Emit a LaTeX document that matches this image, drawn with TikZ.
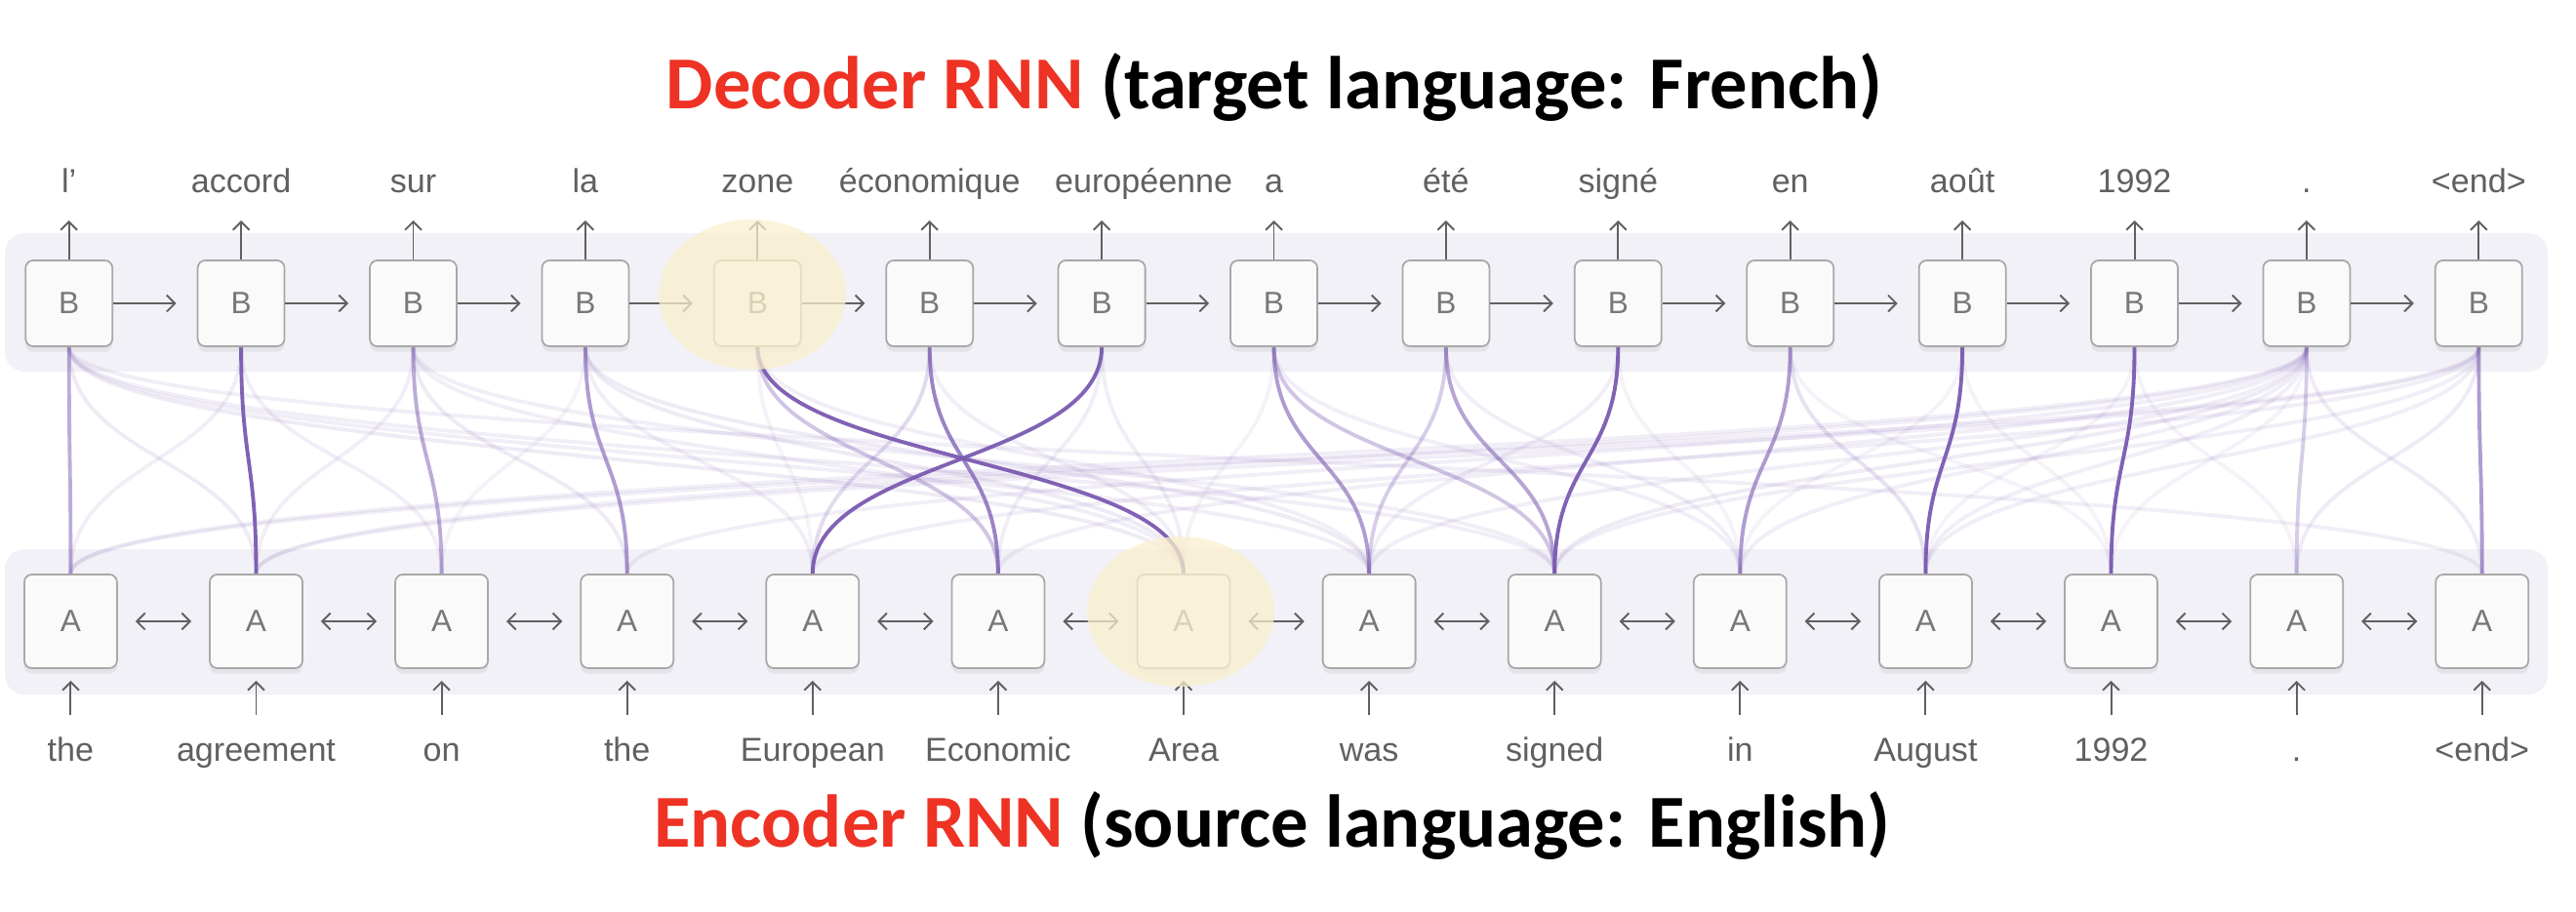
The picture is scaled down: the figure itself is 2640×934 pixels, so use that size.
\documentclass[tikz,border=0pt]{standalone}
\usepackage{fontspec}
\setmainfont{Liberation Sans}
\newfontfamily\headfont{Carlito}
\usetikzlibrary{arrows.meta,shadows}
\definecolor{attn}{RGB}{122,90,176}
\definecolor{band}{RGB}{242,241,247}
\definecolor{boxline}{RGB}{168,168,168}
\definecolor{ink}{RGB}{96,96,96}
\definecolor{cream}{RGB}{250,240,205}
\definecolor{headred}{RGB}{238,50,36}
\pgfdeclarelayer{bg}
\pgfsetlayers{bg,main}

\begin{document}
\begin{tikzpicture}[x=0.1mm,y=-0.1mm,>={Straight Barb[length=2.4pt,width=4.8pt]},
  cell/.style={draw=boxline,line width=0.5pt,fill=white!98!black,rounded corners=2.2pt,inner sep=0pt,
    text=ink!85,font=\fontsize{9}{10}\selectfont,
    drop shadow={shadow xshift=0pt,shadow yshift=-1.6pt,opacity=0.12}},
  dec/.style={cell,minimum width=8.9mm,minimum height=8.8mm},
  enc/.style={cell,minimum width=9.5mm,minimum height=9.6mm},
  word/.style={anchor=base,text=ink,font=\fontsize{9.7}{12}\selectfont},
  flow/.style={ink,line width=0.55pt},
  link/.style={attn,line width=1.1pt},
  glow/.style={fill=cream,opacity=0.75},
  head/.style={anchor=base,font=\headfont\bfseries\fontsize{21.8}{26}\selectfont}]
\useasboundingbox (0,0) rectangle (2640,934);

% titles
\node[head] (dtitle) at (1306,111) {\textcolor{headred}{Decoder RNN} (target language: French)};
\node[head] (etitle) at (1304,868) {\textcolor{headred}{Encoder RNN} (source language: English)};

% decoder row
\foreach \w/\dx [count=\i from 0] in {l’/0,accord/0,sur/0,la/0,zone/0,économique/0,européenne/43,a/0,été/0,
    signé/0,en/0,août/0,1992/0,./0,<end>/0} {
  \pgfmathsetmacro\bx{70.7+176.4*\i}
  \node[dec] (b\i) at (\bx,311) {B};
  \node[word] (fr\i) at (\bx+\dx,197) {\w};
  \coordinate (out\i) at (\bx,226);
  \draw[flow,->] (b\i.north) -- (out\i);
}
\foreach \i [evaluate=\i as \j using int(\i+1)] in {0,...,13}
  \draw[flow,->,shorten >=2.1mm] (b\i.east) -- (b\j.west);

% encoder row
\foreach \w [count=\i from 0] in {the,agreement,on,the,European,Economic,Area,was,signed,in,August,1992,.,<end>} {
  \pgfmathsetmacro\ax{72.4+190.1*\i}
  \node[enc] (a\i) at (\ax,637) {A};
  \node[word] (en\i) at (\ax,780) {\w};
  \coordinate (in\i) at (\ax,733);
  \draw[flow,->,shorten >=1.2mm] (in\i) -- (a\i.south);
}
\foreach \i [evaluate=\i as \j using int(\i+1)] in {0,...,12}
  \draw[flow,<->,shorten <=1.8mm,shorten >=1.8mm] (a\i.east) -- (a\j.west);

% bands and attention links
\begin{pgfonlayer}{bg}
\fill[band,rounded corners=2mm] (5,239) rectangle (2611,381);
\fill[band,rounded corners=2mm] (5,563) rectangle (2611,712);
\foreach \i/\j/\o in {0/1/.12,0/6/.12,0/7/.1,0/8/.1,0/13/.1,1/0/.1,1/2/.1,2/1/.1,2/3/.12,2/6/.1,2/8/.1,
    3/2/.08,3/4/.1,3/6/.12,3/7/.12,4/4/.08,4/7/.1,5/6/.1,6/5/.1,6/6/.1,7/6/.08,7/9/.1,8/9/.1,9/7/.1,9/9/.08,
    10/11/.08,11/9/.08,11/11/.08,12/10/.08,12/12/.08,13/0/.1,13/1/.1,13/3/.1,13/5/.1,13/7/.1,13/8/.12,
    13/9/.1,13/10/.1,13/11/.08,13/13/.12,14/0/.1,14/1/.1,14/4/.1,14/8/.1,14/10/.1,14/12/.12,
    4/5/.35,7/8/.35,8/7/.3,13/12/.3,5/4/.22,10/10/.18,
    0/0/.5,2/2/.5,3/3/.6,7/7/.6,8/8/.55,10/9/.6,14/13/.6,
    5/5/.75,1/1/.95,4/6/.95,6/4/.95,9/8/.95,11/10/.95,12/11/.95}
  \draw[link,opacity=\o] (b\i.south) .. controls +(0,117.5) and +(0,-117.5) .. (a\j.north);
\end{pgfonlayer}

% highlights
\fill[glow] (771,302) ellipse [x radius=96, y radius=77];
\fill[glow] (1210,627) ellipse [x radius=96, y radius=77];
\end{tikzpicture}
\end{document}
